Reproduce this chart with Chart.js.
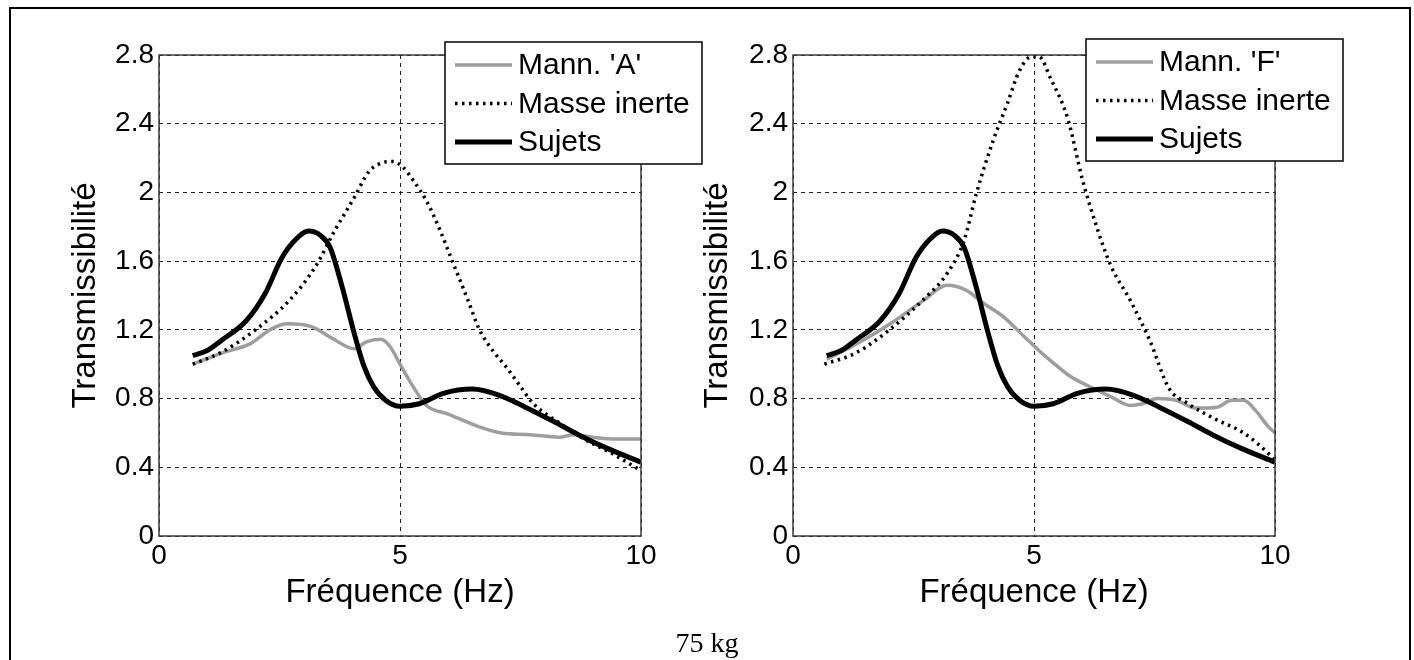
<!DOCTYPE html>
<html>
<head>
<meta charset="utf-8">
<script src="https://cdn.jsdelivr.net/npm/chart.js@4.4.1/dist/chart.umd.min.js"></script>
<style>
  body { margin: 0; background: #fff; width: 1414px; height: 660px; overflow: hidden; position: relative; }
  #frame { position: absolute; left: 9px; top: 7px; width: 1398px; height: 700px; border: 2px solid #000; }
  #c1 { position: absolute; left: 0; top: 0; }
  #c2 { position: absolute; left: 696px; top: 0; }
  #caption { position: absolute; left: 0; top: 627px; width: 1414px; text-align: center;
             font-family: "Liberation Serif", "Times New Roman", serif; font-size: 28px; line-height: 32px; }
</style>
</head>
<body>
<div id="frame"></div>
<canvas id="c1" width="704" height="660"></canvas>
<canvas id="c2" width="718" height="660"></canvas>
<div id="caption">75 kg</div>
<script>
// tick values
const xTicks = [0, 5, 10];
const yTicks = [0, 0.4, 0.8, 1.2, 1.6, 2, 2.4, 2.8];
const yTickLabels = ['0', '0.4', '0.8', '1.2', '1.6', '2', '2.4', '2.8'];

// Sujets (same curve on both plots)
const freqSujets = [0.7, 1.0, 1.3, 1.8, 2.2, 2.55, 2.85, 3.1, 3.35, 3.55, 3.8, 4.05, 4.25, 4.45, 4.7, 5.0, 5.4, 5.9, 6.5, 7.05, 7.6, 8.2, 8.7, 9.3, 10];
const sujets     = [1.05, 1.08, 1.14, 1.25, 1.41, 1.62, 1.73, 1.775, 1.75, 1.68, 1.45, 1.18, 0.99, 0.87, 0.79, 0.755, 0.77, 0.83, 0.855, 0.82, 0.75, 0.665, 0.59, 0.51, 0.43];

// left plot
const freqMannA = [0.7, 1.3, 1.9, 2.3, 2.65, 3.15, 3.6, 4.05, 4.3, 4.6, 4.8, 5.0, 5.25, 5.55, 6.0, 6.6, 7.1, 7.7, 8.3, 8.6, 9.0, 9.5, 10];
const mannA     = [1.0, 1.065, 1.12, 1.2, 1.235, 1.22, 1.15, 1.09, 1.13, 1.145, 1.1, 1.0, 0.88, 0.76, 0.71, 0.64, 0.6, 0.59, 0.575, 0.59, 0.575, 0.565, 0.565];
const freqMasseA = [0.7, 1.3, 2.0, 2.7, 3.25, 3.65, 4.05, 4.35, 4.6, 4.85, 5.05, 5.3, 5.55, 5.8, 6.1, 6.4, 6.65, 6.95, 7.2, 7.5, 7.75, 8.3, 8.85, 9.4, 10];
const masseA     = [1.0, 1.07, 1.2, 1.37, 1.57, 1.78, 1.97, 2.12, 2.17, 2.18, 2.15, 2.06, 1.95, 1.8, 1.59, 1.38, 1.2, 1.07, 0.985, 0.87, 0.775, 0.66, 0.56, 0.48, 0.38];

// right plot
const freqMannF = [0.7, 1.2, 1.7, 2.15, 2.7, 3.2, 3.6, 3.95, 4.35, 4.8, 5.1, 5.35, 5.75, 6.15, 6.6, 7.0, 7.25, 7.55, 7.95, 8.35, 8.8, 9.1, 9.35, 9.6, 9.85, 10];
const mannF     = [1.03, 1.1, 1.18, 1.26, 1.37, 1.46, 1.43, 1.355, 1.28, 1.16, 1.08, 1.02, 0.93, 0.87, 0.81, 0.76, 0.77, 0.8, 0.79, 0.745, 0.75, 0.79, 0.79, 0.73, 0.64, 0.6];
const freqMasseF = [0.65, 1.3, 2.0, 2.7, 3.2, 3.55, 3.8, 4.15, 4.45, 4.7, 4.95, 5.1, 5.35, 5.7, 6.0, 6.3, 6.6, 7.0, 7.4, 7.8, 8.2, 8.8, 9.35, 9.9, 10];
const masseF     = [1.0, 1.065, 1.2, 1.375, 1.53, 1.72, 1.99, 2.3, 2.52, 2.71, 2.79, 2.79, 2.66, 2.43, 2.08, 1.8, 1.57, 1.37, 1.14, 0.86, 0.77, 0.675, 0.6, 0.47, 0.44];

Chart.defaults.font.family = '"Liberation Sans", Arial, Helvetica, sans-serif';
Chart.defaults.color = '#000';

function points(xs, ys) {
    return xs.map((x, i) => ({ x: x, y: ys[i] }));
}

// full box around the plot area
const framePlugin = {
    id: 'frame',
    afterDraw(chart) {
        const a = chart.chartArea;
        const ctx = chart.ctx;
        ctx.save();
        ctx.strokeStyle = '#3a3a3a';
        ctx.lineWidth = 1.5;
        ctx.strokeRect(a.left, a.top, a.right - a.left, a.bottom - a.top);
        ctx.restore();
    }
};

// boxed legend drawn over the plot, like the matlab one
const boxLegend = {
    id: 'boxLegend',
    afterDraw(chart, args, opts) {
        const ctx = chart.ctx;
        ctx.save();
        ctx.fillStyle = '#fff';
        ctx.fillRect(opts.x, opts.y, opts.w, opts.h);
        ctx.strokeStyle = '#000';
        ctx.lineWidth = 1.5;
        ctx.strokeRect(opts.x, opts.y, opts.w, opts.h);
        ctx.font = '30px "Liberation Sans", Arial, sans-serif';
        ctx.textBaseline = 'middle';
        chart.data.datasets.forEach(function(ds, i) {
            const y = opts.y + 23 + i * 38.5;
            ctx.strokeStyle = ds.borderColor;
            ctx.lineWidth = ds.borderWidth;
            ctx.setLineDash(ds.borderDash || []);
            ctx.beginPath();
            ctx.moveTo(opts.x + 10, y);
            ctx.lineTo(opts.x + 67, y);
            ctx.stroke();
            ctx.setLineDash([]);
            ctx.fillStyle = '#000';
            ctx.fillText(ds.label, opts.x + 73, y + 1);
        });
        ctx.restore();
    }
};

function makeChart(id, mannLabel, mannX, mannY, masseX, masseY, cfg) {
    const ctx = document.getElementById(id).getContext('2d');
    return new Chart(ctx, {
        type: 'line',
        data: {
            datasets: [{
                label: mannLabel,
                data: points(mannX, mannY),
                borderColor: '#9e9e9e',
                borderWidth: 3.5,
                order: 3
            }, {
                label: 'Masse inerte',
                data: points(masseX, masseY),
                borderColor: '#000',
                borderWidth: 3.5,
                borderDash: [2.5, 4.5],
                order: 2
            }, {
                label: 'Sujets',
                data: points(freqSujets, sujets),
                borderColor: '#000',
                borderWidth: 5,
                order: 1
            }]
        },
        options: {
            responsive: false,
            animation: false,
            layout: { padding: { left: 0, top: 55, right: cfg.padRight, bottom: 0 } },
            elements: {
                point: { radius: 0 },
                line: { cubicInterpolationMode: 'monotone' }
            },
            scales: {
                x: {
                    type: 'linear',
                    min: 0,
                    max: 10,
                    afterBuildTicks: function(s) { s.ticks = xTicks.map(v => ({ value: v })); },
                    afterFit: function(s) { s.height = 124; },
                    ticks: { font: { size: 28 }, color: '#000', padding: 3, maxRotation: 0, autoSkip: false },
                    grid: { color: '#222', lineWidth: 1, drawTicks: false },
                    border: { display: false, dash: [4, 4] },
                    title: {
                        display: true,
                        text: 'Fréquence (Hz)',
                        color: '#000',
                        font: { size: 33 },
                        padding: { top: 0, bottom: 47 }
                    }
                },
                y: {
                    min: 0,
                    max: 2.8,
                    afterBuildTicks: function(s) { s.ticks = yTicks.map(v => ({ value: v })); },
                    afterFit: function(s) { s.width = cfg.yWidth; },
                    ticks: {
                        font: { size: 28 },
                        color: '#000',
                        padding: 5,
                        autoSkip: false,
                        callback: function(v, i) { return yTickLabels[i]; }
                    },
                    grid: { color: '#222', lineWidth: 1, drawTicks: false },
                    border: { display: false, dash: [4, 4] },
                    title: {
                        display: true,
                        text: 'Transmissibilité',
                        color: '#000',
                        font: { size: 33 },
                        padding: { top: cfg.yTitlePad, bottom: 0 }
                    }
                }
            },
            plugins: {
                legend: { display: false },
                tooltip: { enabled: false },
                boxLegend: cfg.legend
            }
        },
        plugins: [framePlugin, boxLegend]
    });
}

makeChart('c1', "Mann. 'A'", freqMannA, mannA, freqMasseA, masseA, {
    padRight: 63, yWidth: 159, yTitlePad: 66,
    legend: { x: 445, y: 42, w: 257, h: 122 }
});
makeChart('c2', "Mann. 'F'", freqMannF, mannF, freqMasseF, masseF, {
    padRight: 139, yWidth: 97, yTitlePad: 2,
    legend: { x: 390, y: 39, w: 257, h: 122 }
});
</script>
</body>
</html>
